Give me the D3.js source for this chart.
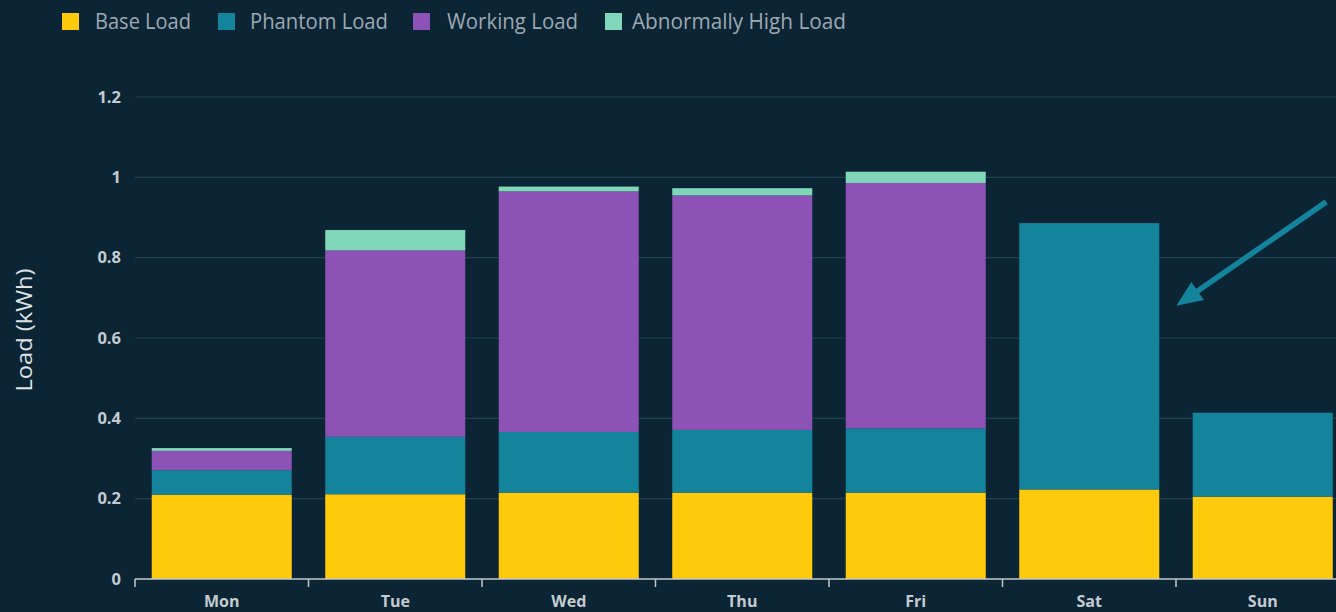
<!DOCTYPE html>
<html>
<head>
<meta charset="utf-8">
<script src="https://cdn.jsdelivr.net/npm/d3@7"></script>
<style>
  html, body { margin: 0; padding: 0; background: #0b2535; overflow: hidden; }
  svg { display: block; }
</style>
</head>
<body>
<svg id="chart" width="1336" height="612"></svg>
<script>
const days = ["Mon", "Tue", "Wed", "Thu", "Fri", "Sat", "Sun"];
const seriesNames = ["Base Load", "Phantom Load", "Working Load", "Abnormally High Load"];
const baseLoad     = [0.210, 0.211, 0.215, 0.215, 0.215, 0.223, 0.205];
const phantomLoad  = [0.061, 0.143, 0.151, 0.156, 0.160, 0.663, 0.209];
const workingLoad  = [0.048, 0.464, 0.599, 0.584, 0.611, 0.000, 0.000];
const abnormalLoad = [0.007, 0.051, 0.012, 0.018, 0.028, 0.000, 0.000];
const yTicks = [0, 0.2, 0.4, 0.6, 0.8, 1, 1.2];
const colors = ["#ffca0c", "#14849c", "#8c52b5", "#7fd6b9"];

const svg = d3.select("#chart");
const bg = "#0b2535";
svg.append("rect").attr("width", 1336).attr("height", 612).attr("fill", bg);

const x = d3.scaleBand().domain(days).range([135, 1349.5]).paddingInner(0.193).paddingOuter(0.0965);
const y = d3.scaleLinear().domain([0, 1.2]).range([579, 97]);
const step = x.step();

// gridlines
svg.append("g").selectAll("line").data(yTicks.filter(d => d > 0)).join("line")
  .attr("x1", 135).attr("x2", 1336)
  .attr("y1", d => y(d)).attr("y2", d => y(d))
  .attr("stroke", "#21404f").attr("stroke-width", 1.2);

// y tick labels
svg.append("g").selectAll("text").data(yTicks).join("text")
  .attr("x", 121).attr("y", d => y(d)).attr("dy", "0.35em")
  .attr("text-anchor", "end")
  .attr("font-family", "Open Sans, sans-serif").attr("font-weight", 700)
  .attr("font-size", 16.5).attr("fill", "#c6cbd0")
  .text(d => d3.format("~g")(d));

// y title
svg.append("text")
  .attr("transform", `translate(32, ${y(0.62)}) rotate(-90)`)
  .attr("text-anchor", "middle")
  .attr("font-family", "Open Sans, sans-serif").attr("font-size", 22)
  .attr("textLength", 123).attr("lengthAdjust", "spacingAndGlyphs")
  .attr("fill", "#dde1e4")
  .text("Load (kWh)");

// stacked data
const rows = days.map((d, i) => ({
  day: d,
  "Base Load": baseLoad[i],
  "Phantom Load": phantomLoad[i],
  "Working Load": workingLoad[i],
  "Abnormally High Load": abnormalLoad[i]
}));
const stack = d3.stack().keys(seriesNames)(rows);

svg.append("g").selectAll("g").data(stack).join("g")
  .attr("fill", (d, i) => colors[i])
  .selectAll("rect").data(d => d.filter(p => p[1] - p[0] > 0)).join("rect")
  .attr("x", d => x(d.data.day))
  .attr("width", x.bandwidth())
  .attr("y", d => y(d[1]))
  .attr("height", d => y(d[0]) - y(d[1]));

// x axis
const axisG = svg.append("g");
axisG.append("line").attr("x1", 135).attr("x2", 1336).attr("y1", y(0)).attr("y2", y(0))
  .attr("stroke", "#c3c8cd").attr("stroke-width", 1.5);
const bounds = days.map(d => x(d) - step * x.paddingInner() / 2);
axisG.selectAll("line.tick").data(bounds).join("line").attr("class", "tick")
  .attr("x1", d => d).attr("x2", d => d)
  .attr("y1", y(0)).attr("y2", y(0) + 8)
  .attr("stroke", "#c3c8cd").attr("stroke-width", 1.5);
axisG.selectAll("text").data(days).join("text")
  .attr("x", d => x(d) + x.bandwidth() / 2)
  .attr("y", 607)
  .attr("text-anchor", "middle")
  .attr("font-family", "Open Sans, sans-serif").attr("font-weight", 700)
  .attr("font-size", 16).attr("fill", "#c6cbd0")
  .text(d => d);

// legend
const legendSwatchX = [62, 218, 413, 605];
const legendTextX = [95, 250, 447, 632];
const legendW = [96, 138, 131, 214];
const leg = svg.append("g").selectAll("g").data(seriesNames).join("g");
leg.append("rect")
  .attr("x", (d, i) => legendSwatchX[i]).attr("y", 13)
  .attr("width", 17).attr("height", 17).attr("fill", (d, i) => colors[i]);
leg.append("text")
  .attr("x", (d, i) => legendTextX[i]).attr("y", 21.5).attr("dy", "0.36em")
  .attr("font-family", "Open Sans, sans-serif").attr("font-size", 21)
  .attr("fill", "#9ea8b1")
  .attr("textLength", (d, i) => legendW[i]).attr("lengthAdjust", "spacingAndGlyphs")
  .text(d => d);

// annotation arrow pointing at Sat
const tipX = x("Sat") + x.bandwidth() + 17;
const tipY = y(0.68);
const startX = tipX + 150;
const startY = tipY - 104;
const ang = Math.atan2(tipY - startY, tipX - startX);
const headLen = 26, headW = 11;
const baseX = tipX - headLen * Math.cos(ang), baseY = tipY - headLen * Math.sin(ang);
const arrowColor = "#14849c";
svg.append("line")
  .attr("x1", startX).attr("y1", startY).attr("x2", baseX + 4 * Math.cos(ang)).attr("y2", baseY + 4 * Math.sin(ang))
  .attr("stroke", arrowColor).attr("stroke-width", 5.5);
svg.append("path")
  .attr("d", d3.line()([
    [tipX, tipY],
    [baseX + headW * Math.sin(ang), baseY - headW * Math.cos(ang)],
    [baseX - headW * Math.sin(ang), baseY + headW * Math.cos(ang)]
  ]) + "Z")
  .attr("fill", arrowColor);
</script>
</body>
</html>
